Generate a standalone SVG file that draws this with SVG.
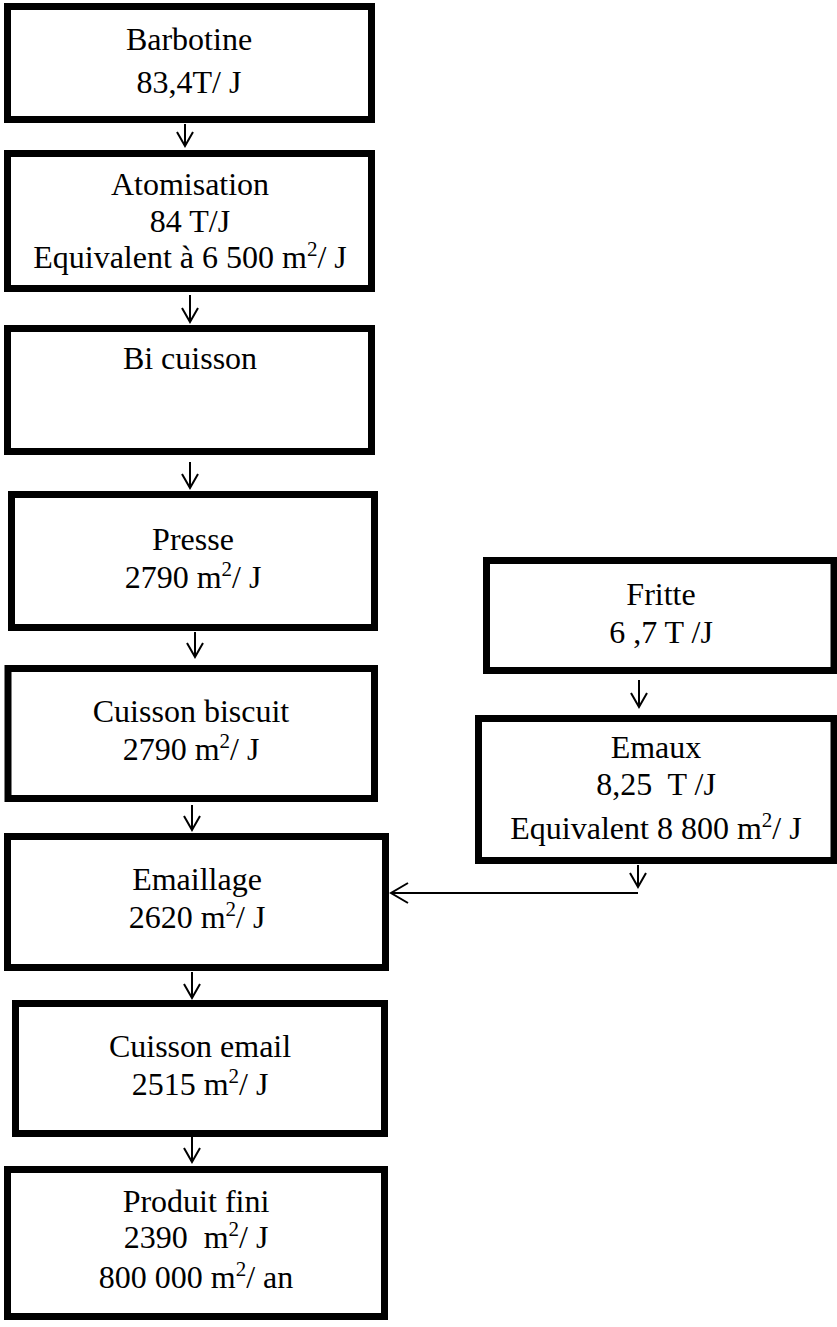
<svg xmlns="http://www.w3.org/2000/svg" width="837" height="1327" viewBox="0 0 837 1327">
<style>
.box{fill:#fff;stroke:#000;stroke-width:7}
.t{font-size:32px;fill:#000;text-anchor:middle}
.s{font-size:21px}
.c{stroke:#000;stroke-width:2;fill:none}
</style>
<defs>
<marker id="v" viewBox="-16 -10 18 20" refX="0" refY="0" markerWidth="18" markerHeight="20" markerUnits="userSpaceOnUse" orient="auto" overflow="visible">
<path d="M-14,-8 L0,0 L-14,8" fill="none" stroke="#000" stroke-width="2"/>
</marker>
<marker id="vl" viewBox="-19 -12 21 24" refX="0" refY="0" markerWidth="21" markerHeight="24" markerUnits="userSpaceOnUse" orient="auto" overflow="visible">
<path d="M-17,-10 L0,0 L-17,10" fill="none" stroke="#000" stroke-width="2"/>
</marker>
</defs>
<rect width="837" height="1327" fill="#fff"/>
<g font-family="Liberation Serif, Times New Roman, serif">

<g id="barbotine">
<rect class="box" x="7.5" y="6.5" width="364" height="113"/>
<text class="t" x="189" y="50">Barbotine</text>
<text class="t" x="189" y="93">83,4T/ J</text>
</g>

<g id="atomisation">
<rect class="box" x="7.5" y="153.5" width="364" height="135"/>
<text class="t" x="190" y="195">Atomisation</text>
<text class="t" x="190" y="232">84 T/J</text>
<text class="t" x="190" y="268">Equivalent à 6 500 m<tspan class="s" dy="-12">2</tspan><tspan dy="12">/ J</tspan></text>
</g>

<g id="bicuisson">
<rect class="box" x="7.5" y="328.5" width="364" height="123"/>
<text class="t" x="190" y="369">Bi cuisson</text>
</g>

<g id="presse">
<rect class="box" x="11.5" y="494.5" width="363" height="133"/>
<text class="t" x="193" y="550">Presse</text>
<text class="t" x="193" y="588">2790 m<tspan class="s" dy="-12">2</tspan><tspan dy="12">/ J</tspan></text>
</g>

<g id="cuissonbiscuit">
<rect class="box" x="8" y="668.5" width="366.5" height="130"/>
<text class="t" x="191" y="722">Cuisson biscuit</text>
<text class="t" x="191" y="760">2790 m<tspan class="s" dy="-12">2</tspan><tspan dy="12">/ J</tspan></text>
</g>

<g id="emaillage">
<rect class="box" x="7.5" y="836.5" width="378" height="131"/>
<text class="t" x="197" y="890">Emaillage</text>
<text class="t" x="197" y="928">2620 m<tspan class="s" dy="-12">2</tspan><tspan dy="12">/ J</tspan></text>
</g>

<g id="cuissonemail">
<rect class="box" x="15.5" y="1003.5" width="369" height="130"/>
<text class="t" x="200" y="1057">Cuisson email</text>
<text class="t" x="200" y="1095">2515 m<tspan class="s" dy="-12">2</tspan><tspan dy="12">/ J</tspan></text>
</g>

<g id="produitfini">
<rect class="box" x="7.5" y="1169.5" width="377" height="147"/>
<text class="t" x="196" y="1212">Produit fini</text>
<text class="t" x="196" y="1248" xml:space="preserve">2390  m<tspan class="s" dy="-12">2</tspan><tspan dy="12">/ J</tspan></text>
<text class="t" x="196" y="1288">800 000 m<tspan class="s" dy="-12">2</tspan><tspan dy="12">/ an</tspan></text>
</g>

<g id="fritte">
<rect class="box" x="486.5" y="560.5" width="347.5" height="110"/>
<text class="t" x="661" y="605">Fritte</text>
<text class="t" x="661" y="643">6 ,7 T /J</text>
</g>

<g id="emaux">
<rect class="box" x="478.5" y="718.5" width="355.5" height="142"/>
<text class="t" x="656" y="758">Emaux</text>
<text class="t" x="656" y="795" xml:space="preserve">8,25  T /J</text>
<text class="t" x="656" y="839">Equivalent 8 800 m<tspan class="s" dy="-12">2</tspan><tspan dy="12">/ J</tspan></text>
</g>
</g>

<g id="connectors">
<line class="c" x1="185" y1="124" x2="185" y2="146" marker-end="url(#v)"/>
<line class="c" x1="190" y1="295" x2="190" y2="322" marker-end="url(#v)"/>
<line class="c" x1="190" y1="462" x2="190" y2="488" marker-end="url(#v)"/>
<line class="c" x1="195" y1="632" x2="195" y2="657" marker-end="url(#v)"/>
<line class="c" x1="192" y1="805" x2="192" y2="830" marker-end="url(#v)"/>
<line class="c" x1="192" y1="972" x2="192" y2="998" marker-end="url(#v)"/>
<line class="c" x1="192" y1="1137" x2="192" y2="1162" marker-end="url(#v)"/>
<line class="c" x1="639" y1="680" x2="639" y2="707" marker-end="url(#v)"/>
<line class="c" x1="638" y1="865" x2="638" y2="887" marker-end="url(#v)"/>
<line class="c" x1="638" y1="893" x2="391" y2="893" marker-end="url(#vl)"/>
</g>
</svg>
